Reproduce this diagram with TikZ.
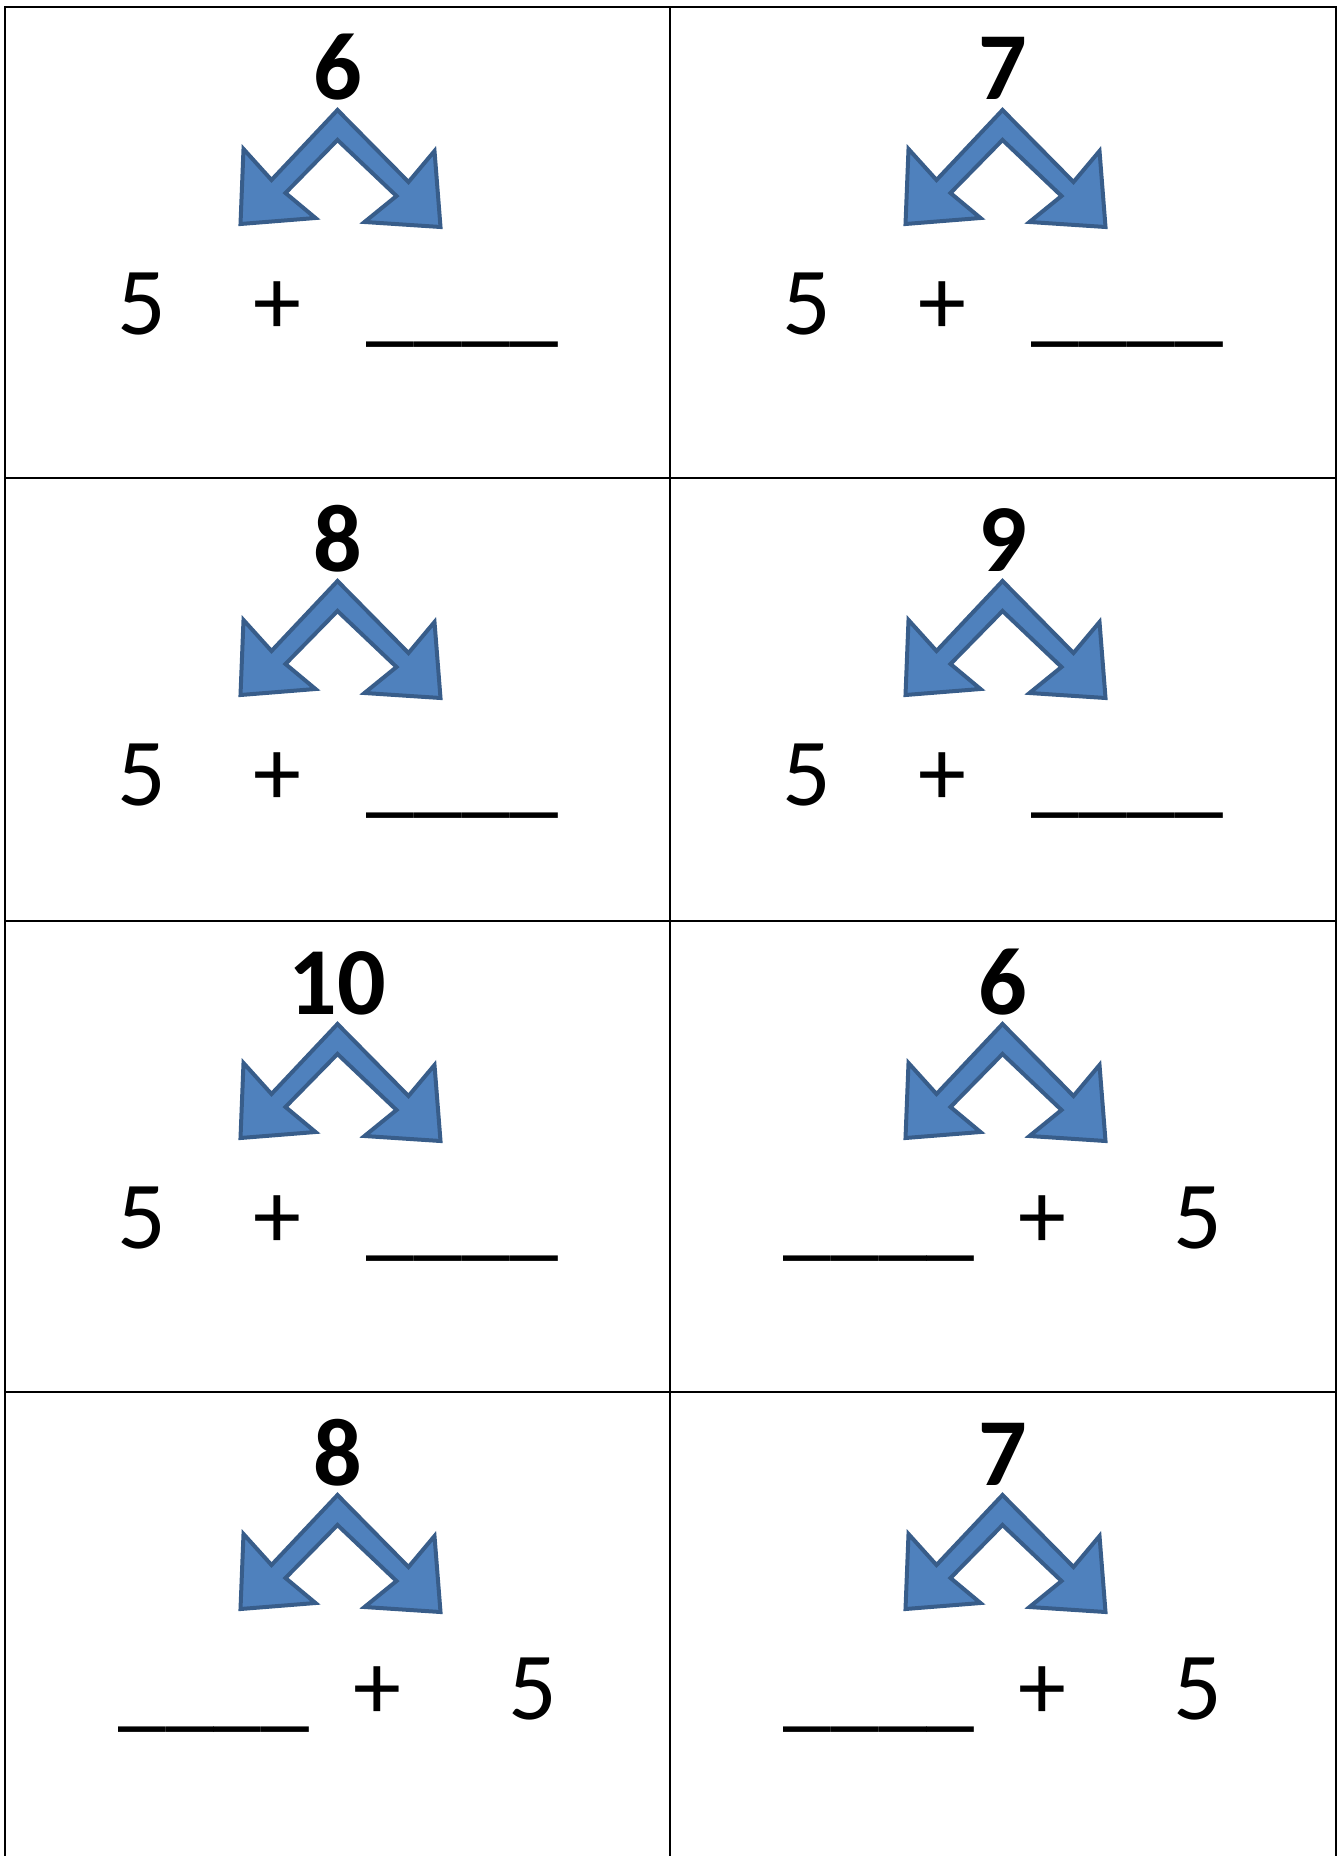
\documentclass[tikz,border=0pt]{standalone}
\usepackage{fontspec}
\setmainfont{Carlito}
\definecolor{arrowblue}{HTML}{4F81BD}
\definecolor{arrowedge}{HTML}{385D8A}
\tikzset{
  grid line/.style={line width=1pt},
  splitarrow/.style={fill=arrowblue, draw=arrowedge, line width=2pt, line join=miter},
  total/.style={font=\fontsize{48}{58}\selectfont\bfseries, anchor=base, inner sep=0pt},
  term/.style={font=\fontsize{48}{58}\selectfont, anchor=base, inner sep=0pt}
}
\begin{document}
\begin{tikzpicture}[x=0.5pt, y=-0.5pt]
  \useasboundingbox (0,0) rectangle (1341,1856);
  % Card grid
  \draw[grid line] (5,1856) -- (5,7) -- (1335.5,7) -- (1335.5,1856);
  \draw[grid line] (670,7) -- (670,1856);
  \foreach \ly in {478,921,1392}
    \draw[grid line] (5,\ly) -- (1335.5,\ly);

  % Number bonds: cell left / cell top / whole / blank first?
  \foreach \cx/\cy/\tot/\rev [count=\i] in {5/7/6/0, 670/7/7/0, 5/478/8/0, 670/478/9/0,
      5/921/10/0, 670/921/6/1, 5/1392/8/1, 670/1392/7/1} {
    \node[total] (whole\i) at (\cx+332.5,\cy+93) {\tot};
    \begin{scope}[shift={(\cx+332.5,\cy+103)}]
      \draw[splitarrow] (0,0) -- (71,72) -- (97,41) -- (103,117) -- (27,112) -- (59,86)
        -- (0,30) -- (-52,83) -- (-22,108) -- (-97,114) -- (-94,39) -- (-66,70) -- cycle;
    \end{scope}
    \ifnum\rev=0
      \node[term] (five\i) at (\cx+137,\cy+327.5) {5};
      \node[term] (plus\i) at (\cx+272.7,\cy+327.5) {+};
      \node[term] (blank\i) at (\cx+457.5,\cy+327.5) {\_\_\_\_};
    \else
      \node[term] (blank\i) at (\cx+209,\cy+327.5) {\_\_\_\_};
      \node[term] (plus\i) at (\cx+372.2,\cy+327.5) {+};
      \node[term] (five\i) at (\cx+528.3,\cy+327.5) {5};
    \fi
  }
\end{tikzpicture}
\end{document}
